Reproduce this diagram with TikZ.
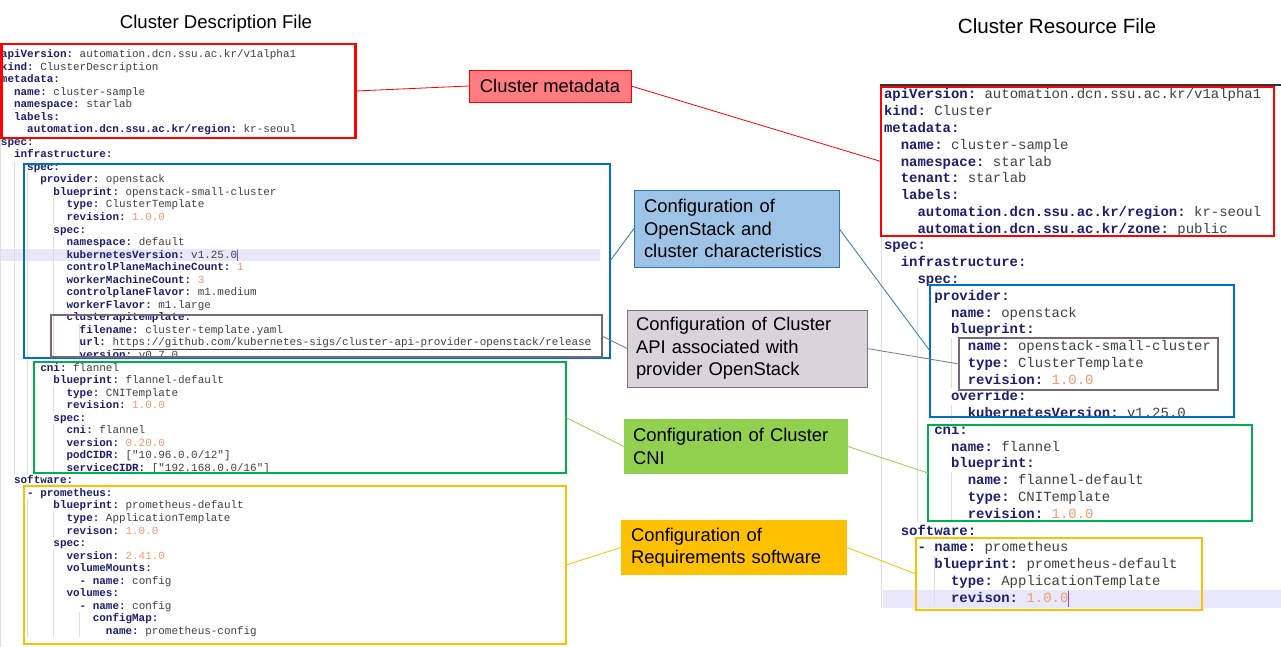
\documentclass[tikz,border=0pt]{standalone}
\usepackage{fontspec}
\setmainfont{Liberation Sans}
\setmonofont{Liberation Mono}
\definecolor{keyc}{RGB}{30,30,110}
\definecolor{valc}{RGB}{64,64,64}
\definecolor{numc}{RGB}{245,155,110}
\definecolor{cred}{RGB}{255,0,0}
\definecolor{cblue}{RGB}{0,112,192}
\definecolor{cgray}{RGB}{117,104,122}
\definecolor{cgreen}{RGB}{0,176,80}
\definecolor{cyellow}{RGB}{255,192,0}
\definecolor{metaf}{RGB}{255,124,128}
\definecolor{bluef}{RGB}{157,195,230}
\definecolor{bluel}{RGB}{46,117,182}
\definecolor{grayf}{RGB}{217,211,220}
\definecolor{grayl}{RGB}{127,115,132}
\definecolor{greenf}{RGB}{146,208,80}
\definecolor{hlc}{RGB}{232,232,250}
\definecolor{guidec}{RGB}{222,222,222}
\definecolor{cursc}{RGB}{140,70,255}
\newcommand{\cK}[1]{{\bfseries\color{keyc}#1}}
\newcommand{\cV}[1]{{\color{valc}#1}}
\newcommand{\cN}[1]{{\color{numc}#1}}
\newcommand{\lline}[4]{\node[lcode] (#1) at ({1+#2*6.56},{57.5+#3*12.54}) {#4};}
\newcommand{\rline}[4]{\node[rcode] (#1) at ({884+#2*8.38},{99+#3*16.77}) {#4};}
\newcommand{\lguide}[3]{\draw[guide] ({1+#1*6.56},{57.5+#2*12.54-9.5}) -- ({1+#1*6.56},{57.5+#3*12.54+3});}
\newcommand{\rguide}[3]{\draw[guide] ({884+#1*8.38},{99+#2*16.77-12.5}) -- ({884+#1*8.38},{99+#3*16.77+4});}
\begin{document}
\begin{tikzpicture}[x=1pt,y=-1pt,
  lcode/.style={anchor=base west, inner sep=0pt, outer sep=0pt, font=\ttfamily\fontsize{10.93}{12.54}\selectfont},
  rcode/.style={anchor=base west, inner sep=0pt, outer sep=0pt, font=\ttfamily\fontsize{13.97}{16.77}\selectfont},
  guide/.style={draw=guidec, line width=0.8pt},
  cbox/.style={rectangle, line width=2.8pt, inner sep=0pt, outer sep=0pt},
  lab/.style={rectangle, inner ysep=0pt, outer sep=0pt, font=\fontsize{18.4}{22.3}\selectfont, align=left, text=black},
  ttl/.style={inner sep=0pt, font=\fontsize{18.6}{22}\selectfont, text=black},
  cn/.style={line width=0.8pt}]
\useasboundingbox (0,0) rectangle (1281,647);
\fill[white] (0,0) rectangle (1281,647);
% editor details
\fill[hlc] (0,249) rectangle (600,261);
\fill[hlc] (883,590) rectangle (1281,608);
\draw[guide] (0.5,139) -- (0.5,647);
\draw[guide] (881.5,237) -- (881.5,608);
\draw[black!80, line width=1.2pt] (880,85) -- (1281,85);
\lguide{2}{9}{33}
\lguide{4}{10}{33}
\lguide{8}{12}{13}
\lguide{8}{15}{24}
\lguide{12}{22}{24}
\lguide{8}{27}{28}
\lguide{8}{30}{33}
\lguide{4}{36}{46}
\lguide{8}{37}{38}
\lguide{8}{40}{46}
\lguide{12}{45}{46}
\rguide{4}{12}{25}
\rguide{8}{15}{17}
\rguide{8}{19}{19}
\rguide{8}{23}{25}
\rguide{6}{28}{30}
% titles
\node[ttl] (t1) at (216,24) {Cluster Description File};
\node[ttl, font=\fontsize{20.6}{24}\selectfont] (t2) at (1057,26) {Cluster Resource File};
% left code
\lline{L00}{0}{0}{\cK{apiVersion:} \cV{automation.dcn.ssu.ac.kr/v1alpha1}}
\lline{L01}{0}{1}{\cK{kind:} \cV{ClusterDescription}}
\lline{L02}{0}{2}{\cK{metadata:}}
\lline{L03}{2}{3}{\cK{name:} \cV{cluster-sample}}
\lline{L04}{2}{4}{\cK{namespace:} \cV{starlab}}
\lline{L05}{2}{5}{\cK{labels:}}
\lline{L06}{4}{6}{\cK{automation.dcn.ssu.ac.kr/region:} \cV{kr-seoul}}
\lline{L07}{0}{7}{\cK{spec:}}
\lline{L08}{2}{8}{\cK{infrastructure:}}
\lline{L09}{4}{9}{\cK{spec:}}
\lline{L10}{6}{10}{\cK{provider:} \cV{openstack}}
\lline{L11}{8}{11}{\cK{blueprint:} \cV{openstack-small-cluster}}
\lline{L12}{10}{12}{\cK{type:} \cV{ClusterTemplate}}
\lline{L13}{10}{13}{\cK{revision:} \cN{1.0.0}}
\lline{L14}{8}{14}{\cK{spec:}}
\lline{L15}{10}{15}{\cK{namespace:} \cV{default}}
\lline{L16}{10}{16}{\cK{kubernetesVersion:} \cV{v1.25.0}}
\lline{L17}{10}{17}{\cK{controlPlaneMachineCount:} \cN{1}}
\lline{L18}{10}{18}{\cK{workerMachineCount:} \cN{3}}
\lline{L19}{10}{19}{\cK{controlplaneFlavor:} \cV{m1.medium}}
\lline{L20}{10}{20}{\cK{workerFlavor:} \cV{m1.large}}
\lline{L21}{10}{21}{\cK{clusterapitemplate:}}
\lline{L22}{12}{22}{\cK{filename:} \cV{cluster-template.yaml}}
\lline{L23}{12}{23}{\cK{url:} \cV{\underline{https://github.com/kubernetes-sigs/cluster-api-provider-openstack/release}}}
\lline{L24}{12}{24}{\cK{version:} \cV{v0.7.0}}
\lline{L25}{6}{25}{\cK{cni:} \cV{flannel}}
\lline{L26}{8}{26}{\cK{blueprint:} \cV{flannel-default}}
\lline{L27}{10}{27}{\cK{type:} \cV{CNITemplate}}
\lline{L28}{10}{28}{\cK{revision:} \cN{1.0.0}}
\lline{L29}{8}{29}{\cK{spec:}}
\lline{L30}{10}{30}{\cK{cni:} \cV{flannel}}
\lline{L31}{10}{31}{\cK{version:} \cN{0.20.0}}
\lline{L32}{10}{32}{\cK{podCIDR:} \cV{["10.96.0.0/12"]}}
\lline{L33}{10}{33}{\cK{serviceCIDR:} \cV{["192.168.0.0/16"]}}
\lline{L34}{2}{34}{\cK{software:}}
\lline{L35}{4}{35}{\cK{- prometheus:}}
\lline{L36}{8}{36}{\cK{blueprint:} \cV{prometheus-default}}
\lline{L37}{10}{37}{\cK{type:} \cV{ApplicationTemplate}}
\lline{L38}{10}{38}{\cK{revison:} \cN{1.0.0}}
\lline{L39}{8}{39}{\cK{spec:}}
\lline{L40}{10}{40}{\cK{version:} \cN{2.41.0}}
\lline{L41}{10}{41}{\cK{volumeMounts:}}
\lline{L42}{12}{42}{\cK{- name:} \cV{config}}
\lline{L43}{10}{43}{\cK{volumes:}}
\lline{L44}{12}{44}{\cK{- name:} \cV{config}}
\lline{L45}{14}{45}{\cK{configMap:}}
\lline{L46}{16}{46}{\cK{name:} \cV{prometheus-config}}
% right code
\rline{R00}{0}{0}{\cK{apiVersion:} \cV{automation.dcn.ssu.ac.kr/v1alpha1}}
\rline{R01}{0}{1}{\cK{kind:} \cV{Cluster}}
\rline{R02}{0}{2}{\cK{metadata:}}
\rline{R03}{2}{3}{\cK{name:} \cV{cluster-sample}}
\rline{R04}{2}{4}{\cK{namespace:} \cV{starlab}}
\rline{R05}{2}{5}{\cK{tenant:} \cV{starlab}}
\rline{R06}{2}{6}{\cK{labels:}}
\rline{R07}{4}{7}{\cK{automation.dcn.ssu.ac.kr/region:} \cV{kr-seoul}}
\rline{R08}{4}{8}{\cK{automation.dcn.ssu.ac.kr/zone:} \cV{public}}
\rline{R09}{0}{9}{\cK{spec:}}
\rline{R10}{2}{10}{\cK{infrastructure:}}
\rline{R11}{4}{11}{\cK{spec:}}
\rline{R12}{6}{12}{\cK{provider:}}
\rline{R13}{8}{13}{\cK{name:} \cV{openstack}}
\rline{R14}{8}{14}{\cK{blueprint:}}
\rline{R15}{10}{15}{\cK{name:} \cV{openstack-small-cluster}}
\rline{R16}{10}{16}{\cK{type:} \cV{ClusterTemplate}}
\rline{R17}{10}{17}{\cK{revision:} \cN{1.0.0}}
\rline{R18}{8}{18}{\cK{override:}}
\rline{R19}{10}{19}{\cK{kubernetesVersion:} \cV{v1.25.0}}
\rline{R20}{6}{20}{\cK{cni:}}
\rline{R21}{8}{21}{\cK{name:} \cV{flannel}}
\rline{R22}{8}{22}{\cK{blueprint:}}
\rline{R23}{10}{23}{\cK{name:} \cV{flannel-default}}
\rline{R24}{10}{24}{\cK{type:} \cV{CNITemplate}}
\rline{R25}{10}{25}{\cK{revision:} \cN{1.0.0}}
\rline{R26}{2}{26}{\cK{software:}}
\rline{R27}{4}{27}{\cK{- name:} \cV{prometheus}}
\rline{R28}{6}{28}{\cK{blueprint:} \cV{prometheus-default}}
\rline{R29}{8}{29}{\cK{type:} \cV{ApplicationTemplate}}
\rline{R30}{8}{30}{\cK{revison:} \cN{1.0.0}}
% cursors
\draw[cursc, line width=0.9pt] (237.5,249.5) -- (237.5,260.5);
\draw[cursc, line width=1pt] (1068.5,591) -- (1068.5,607);
% boxes
\node[cbox, draw=cred, minimum width=354pt, minimum height=94pt] (lred) at (178.5,91) {};
\node[cbox, draw=cblue, minimum width=586pt, minimum height=194pt] (lblue) at (317,261) {};
\node[cbox, draw=cgray, minimum width=551pt, minimum height=42pt] (lgray) at (326.5,336) {};
\node[cbox, draw=cgreen, minimum width=532pt, minimum height=111pt] (lgreen) at (300,417.5) {};
\node[cbox, draw=cyellow, minimum width=542pt, minimum height=158pt] (lyellow) at (295,565) {};
\node[cbox, draw=cred, minimum width=393pt, minimum height=149pt] (rred) at (1077.5,161.5) {};
\node[cbox, draw=cblue, minimum width=304pt, minimum height=132pt] (rblue) at (1082,351) {};
\node[cbox, draw=cgray, minimum width=259pt, minimum height=52pt] (rgray) at (1088.5,364) {};
\node[cbox, draw=cgreen, minimum width=324pt, minimum height=96pt] (rgreen) at (1090,473) {};
\node[cbox, draw=cyellow, minimum width=286pt, minimum height=72pt] (ryellow) at (1059,574) {};
% labels
\node[lab, fill=metaf, draw=cred, line width=0.9pt, minimum width=162pt, minimum height=32pt] (labMeta) at (550,86) {Cluster metadata};
\node[lab, fill=bluef, draw=bluel, line width=0.9pt, minimum height=77pt, inner xsep=10pt, text width=185pt] (labOS) at (736.5,228.5) {Configuration of\\OpenStack and\\cluster characteristics};
\node[lab, fill=grayf, draw=grayl, line width=0.9pt, minimum height=77pt, inner xsep=9pt, text width=222pt] (labCAPI) at (747,348.5) {Configuration of Cluster\\API associated with\\provider OpenStack};
\node[lab, fill=greenf, minimum height=55pt, inner xsep=9pt, text width=206pt] (labCNI) at (736,446.5) {Configuration of Cluster\\CNI};
\node[lab, fill=cyellow, minimum height=55pt, inner xsep=10pt, text width=206pt] (labSW) at (734,547.5) {Configuration of\\Requirements software};
% connectors
\draw[cn, draw=cred] (lred.east) -- (labMeta.west);
\draw[cn, draw=cred] (labMeta.east) -- (rred.west);
\draw[cn, draw=bluel] (lblue.east) -- (labOS.west);
\draw[cn, draw=bluel] (labOS.east) -- (rblue.west);
\draw[cn, draw=grayl] (lgray.east) -- (labCAPI.west);
\draw[cn, draw=grayl] (labCAPI.east) -- (rgray.west);
\draw[cn, draw=greenf] (lgreen.east) -- (labCNI.west);
\draw[cn, draw=greenf] (labCNI.east) -- (rgreen.west);
\draw[cn, draw=cyellow] (lyellow.east) -- (labSW.west);
\draw[cn, draw=cyellow] (labSW.east) -- (ryellow.west);
\end{tikzpicture}
\end{document}
